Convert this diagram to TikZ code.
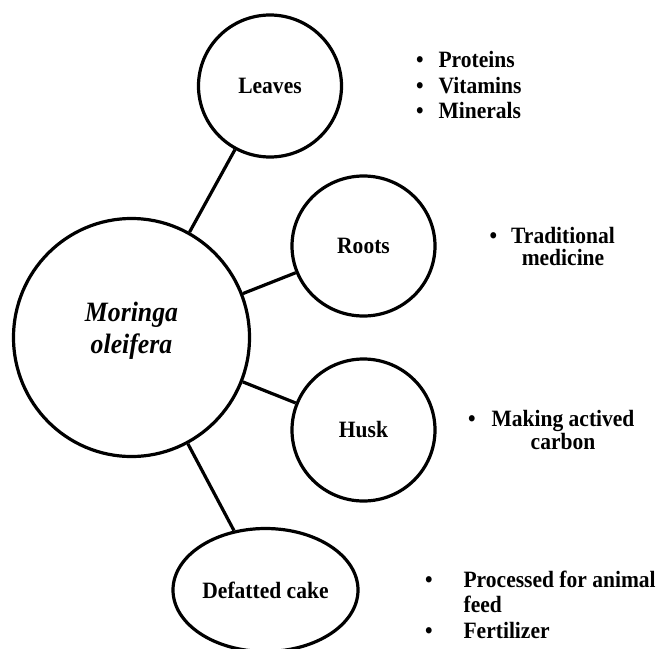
\documentclass[tikz,border=0pt]{standalone}
\usepackage{fontspec}
\setmainfont{Liberation Serif}[FakeStretch=0.92]
\usetikzlibrary{shapes.geometric}
\newcommand{\dotgap}[1]{\llap{\textbullet\hspace{#1}}}

\begin{document}
\begin{tikzpicture}[x=1pt, y=-1pt, line width=3.2pt,
    part/.style={draw, ellipse, inner sep=0pt, align=center,
      font=\fontsize{23.4}{24}\selectfont\bfseries},
    note/.style={inner sep=0pt, font=\fontsize{23.4}{25.5}\selectfont\bfseries}]
  \useasboundingbox (0,0) rectangle (660,648);
  \clip (0,0) rectangle (660,648);
  \node[part, minimum width=236pt, minimum height=238pt, text depth=19pt,
    font=\fontsize{28}{32}\selectfont\bfseries\itshape] (moringa) at (131.5,337.5) {Moringa\\oleifera};
  \node[part, minimum width=143pt, minimum height=142pt] (leaves) at (270,86) {Leaves};
  \node[part, minimum width=143pt, minimum height=140pt] (roots) at (363.5,246) {Roots};
  \node[part, minimum width=143pt, minimum height=142pt] (husk) at (363.5,430) {Husk};
  \node[part, minimum width=185pt, minimum height=123pt] (cake) at (265.5,590) {Defatted cake};
  \foreach \p in {leaves,roots,husk,cake}
    \draw (moringa) -- (\p);
  \node[note, anchor=north west, align=left] (leavesnote) at (437,50)
    {\dotgap{15pt}Proteins\\\dotgap{15pt}Vitamins\\\dotgap{15pt}Minerals};
  \node[note, anchor=north, align=center, font=\fontsize{23.4}{21.5}\selectfont\bfseries] (rootsnote) at (563,226)
    {\dotgap{14pt}Traditional\\medicine};
  \node[note, anchor=north, align=center, font=\fontsize{23.4}{23}\selectfont\bfseries] (husknote) at (563,409)
    {\dotgap{16pt}Making actived\\carbon};
  \node[note, anchor=north west, align=left] (cakenote) at (462,569)
    {\dotgap{31pt}Processed for animal\\feed\\\dotgap{31pt}Fertilizer};
\end{tikzpicture}
\end{document}
